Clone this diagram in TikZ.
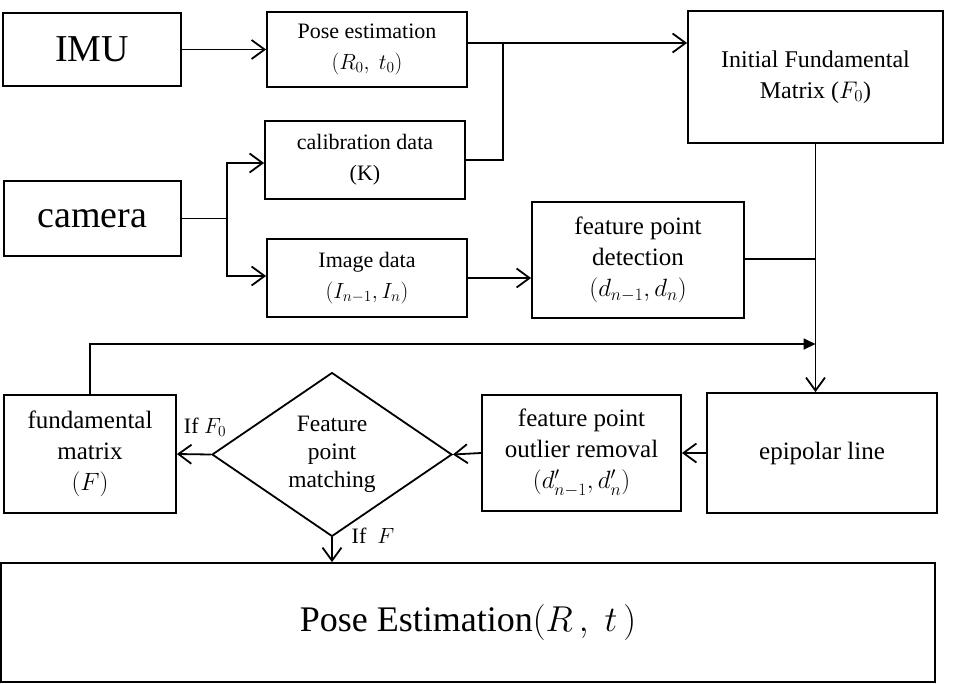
\documentclass[tikz,border=0pt]{standalone}
\usepackage{fix-cm}
\usepackage{fontspec}
\setmainfont{Liberation Serif}
\usetikzlibrary{arrows.meta,shapes.geometric}
\tikzset{
  box/.style={draw, line width=1.8pt, align=center, inner sep=0pt},
  arr/.style={line width=1.8pt, -{Straight Barb[length=13pt,width=19pt,line width=1.8pt]}},
  farr/.style={line width=1.8pt, -{Triangle[length=12pt,width=11pt]}},
  ln/.style={line width=1.8pt},
  big/.style={font=\fontsize{38}{44}\selectfont},
  sm/.style={font=\fontsize{22}{31}\selectfont},
  md/.style={font=\fontsize{25}{31}\selectfont},
}
\begin{document}
\begin{tikzpicture}[x=1pt,y=-1pt]
\useasboundingbox (0,0) rectangle (963,683);
\node[box,big,minimum width=178pt,minimum height=73pt] (imu) at (92,49.5) {IMU};
\node[box,sm,minimum width=200pt,minimum height=75pt] (pose0) at (367,49.5) {Pose estimation\\$(R_0,\ t_0)$};
\node[box,sm,minimum width=200pt,minimum height=78pt] (calib) at (365,160) {calibration data\\(K)};
\node[box,big,minimum width=177pt,minimum height=75pt] (camera) at (92.5,218.5) {camera};
\node[box,sm,minimum width=200pt,minimum height=78pt] (image) at (367,278) {Image data\\$(I_{n-1},I_n)$};
\node[box,md,minimum width=212pt,minimum height=116pt] (detect) at (638,260) {feature point\\detection\\$(d_{n-1},d_n)$};
\node[box,font=\fontsize{24}{31}\selectfont,minimum width=255pt,minimum height=132pt] (init) at (815.5,77) {Initial Fundamental\\Matrix ($F_0$)};
\node[box,md,minimum width=230pt,minimum height=120pt] (epi) at (822,453) {epipolar line};
\node[box,md,minimum width=199pt,minimum height=116pt] (outlier) at (581.5,453) {feature point\\outlier removal\\$(d'_{n-1},d'_n)$};
\node[box,md,minimum width=172pt,minimum height=118pt] (fund) at (90,454) {fundamental\\matrix\\$(F)$};
\node[draw,line width=1.8pt,diamond,inner sep=0pt,minimum width=240pt,minimum height=151pt,align=center,font=\fontsize{23.5}{28}\selectfont] (dia) at (332,454.5) {Feature\\point\\matching};
\node[box,font=\fontsize{36}{40}\selectfont,minimum width=934pt,minimum height=119pt] (pose) at (468,622.5) {Pose Estimation$(R\,,\;t\,)$};
\node[font=\fontsize{22}{26}\selectfont,anchor=base] (lf0) at (205,433) {If $F_0$};
\node[font=\fontsize{22}{26}\selectfont,anchor=base] (lf) at (373,543) {If\ \ $F$};
% connectors
\coordinate (j1) at (503,43);
\coordinate (cb) at (227,218.5);
\coordinate (cbt) at (227,163);
\coordinate (cbb) at (227,276);
\coordinate (jd) at (815.5,259);
\coordinate (fb) at (90,344);
\draw[arr] (imu.east) -- (pose0.west);
\draw[ln] (pose0.east |- j1) -- (j1);
\draw[arr] (j1) -- (j1 -| init.west);
\draw[ln] (calib.east) -- (calib.east -| j1) -- (j1);
\draw[ln] (camera.east) -- (cb);
\draw[arr] (cb) -- (cbt) -- (cbt -| calib.west);
\draw[arr] (cb) -- (cbb) -- (cbb -| image.west);
\draw[arr] (image.east) -- (image.east -| detect.west);
\draw[ln] (detect.east |- jd) -- (jd);
\draw[arr] (init.south) -- (init.south |- epi.north);
\draw[farr] (fund.north) -- (fb) -- (fb -| init.south);
\draw[arr] (epi.west) -- (outlier.east);
\draw[arr] (outlier.west) -- (dia.east);
\draw[arr] (dia.west) -- (fund.east);
\draw[arr] (dia.south) -- (dia.south |- pose.north);
\end{tikzpicture}
\end{document}
